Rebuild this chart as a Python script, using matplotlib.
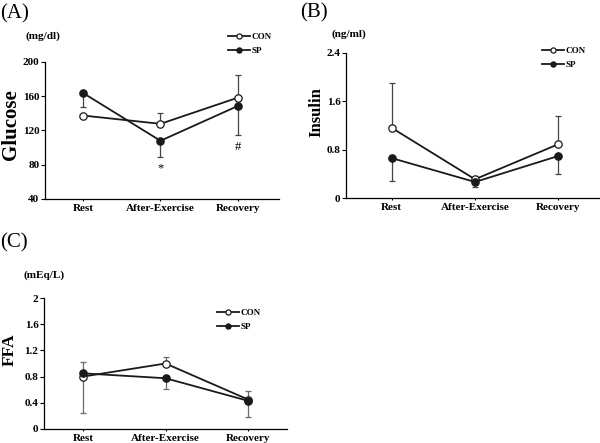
import matplotlib
matplotlib.use('Agg')
import matplotlib.pyplot as plt
import numpy as np

plt.rcParams['font.family'] = ['Liberation Serif', 'DejaVu Serif']
plt.rcParams['font.weight'] = 'bold'

categories = ['Rest', 'After-Exercise', 'Recovery']

# Glucose (mg/dl)
glu_con = [137.5, 127.8, 158.4]
glu_sp = [163.9, 108.0, 148.7]
glu_con_err_up = [0, 12.2, 26.0]
glu_sp_err_down = [17.0, 19.0, 34.0]

# Insulin (ng/ml)
ins_con = [1.16, 0.31, 0.89]
ins_sp = [0.66, 0.265, 0.695]
ins_con_err_up = [0.75, 0, 0.47]
ins_sp_err_down = [0.38, 0.075, 0.29]

# FFA (mEq/L)
ffa_con = [0.80, 1.00, 0.45]
ffa_sp = [0.85, 0.775, 0.43]
ffa_con_err_up = [0, 0.105, 0.13]
ffa_con_err_down = [0.555, 0, 0]
ffa_sp_err_up = [0.17, 0, 0]
ffa_sp_err_down = [0, 0.17, 0.25]

W, H = 600, 443


def px_axes(fig, left, right, top, bottom):
    return fig.add_axes([left / W, (H - bottom) / H, (right - left) / W, (bottom - top) / H])


def fig_text(fig, x, y, s, **kw):
    return fig.text(x / W, 1 - y / H, s, **kw)


def panel(fig, box, con, sp, errs, ylim, yticks, ylabel, unit, letter,
          xlim, ylabel_xy, ylabel_size, unit_xy, letter_xy, leg_xy, ecol):
    ax = px_axes(fig, *box)
    x = np.arange(len(categories))
    for vals, up, down in errs:
        ax.errorbar(x, vals, yerr=[down, up], fmt='none', ecolor=ecol,
                    elinewidth=0.9, capsize=2.5, capthick=0.9, zorder=1)
    ax.plot(x, con, '-o', color='#1a1a1a', mfc='white', mec='#1a1a1a',
            ms=5.3, mew=0.9, lw=1.3, label='CON', zorder=3)
    ax.plot(x, sp, '-o', color='#1a1a1a', mfc='#1a1a1a', mec='#1a1a1a',
            ms=5.3, mew=0.9, lw=1.3, label='SP', zorder=3)
    ax.set_xlim(*xlim)
    ax.set_ylim(*ylim)
    ax.set_yticks(yticks)
    ax.set_yticklabels([('%g' % t) if t != 0 else '0' for t in yticks])
    ax.set_xticks(x)
    ax.set_xticklabels(categories)
    for s in ['top', 'right']:
        ax.spines[s].set_visible(False)
    for s in ['left', 'bottom']:
        ax.spines[s].set_linewidth(0.9)
    ax.tick_params(axis='y', direction='out', length=3, width=0.8, labelsize=8, pad=1)
    ax.tick_params(axis='x', direction='out', length=1.5, width=0.8, labelsize=8, pad=2)
    fig_text(fig, ylabel_xy[0], ylabel_xy[1], ylabel, fontsize=ylabel_size,
             fontweight='bold', rotation=90, ha='center', va='center')
    fig_text(fig, unit_xy[0], unit_xy[1], unit, fontsize=8,
             fontweight='bold', ha='left', va='center')
    fig_text(fig, letter_xy[0], letter_xy[1], letter, fontsize=15,
             fontweight='normal', ha='left', va='center')
    ax.legend(loc='upper left', bbox_to_anchor=(leg_xy[0] / W, 1 - leg_xy[1] / H),
              bbox_transform=fig.transFigure, frameon=False, fontsize=6.5,
              markerscale=0.7, handlelength=2.4, handletextpad=0.2,
              labelspacing=0.6, borderpad=0, borderaxespad=0)
    return ax


fig = plt.figure(figsize=(6, 4.43), dpi=100)

axA = panel(fig, (45, 279, 62, 199), glu_con, glu_sp,
            [(glu_con, glu_con_err_up, [0, 0, 0]), (glu_sp, [0, 0, 0], glu_sp_err_down)],
            (40, 200), [40, 80, 120, 160, 200], 'Glucose', '(mg/dl)', '(A)',
            (-0.49, 2.53), (11, 125), 15, (25, 36), (0, 14), (228, 33), '#444444')
axA.text(1, 89.3 - 7, '*', ha='center', va='top', fontsize=9, fontweight='normal')
axA.text(2, 115 - 7, '#', ha='center', va='top', fontsize=9, fontweight='normal')

panel(fig, (346, 599, 53, 198), ins_con, ins_sp,
      [(ins_con, ins_con_err_up, [0, 0, 0]), (ins_sp, [0, 0, 0], ins_sp_err_down)],
      (0, 2.4), [0, 0.8, 1.6, 2.4], 'Insulin', '(ng/ml)', '(B)',
      (-0.55, 2.49), (316, 112), 12, (332, 34), (300, 13), (542, 47), '#444444')

panel(fig, (44, 287, 298, 429), ffa_con, ffa_sp,
      [(ffa_con, ffa_con_err_up, ffa_con_err_down), (ffa_sp, ffa_sp_err_up, ffa_sp_err_down)],
      (0, 2), [0, 0.4, 0.8, 1.2, 1.6, 2], 'FFA', '(mEq/L)', '(C)',
      (-0.47, 2.47), (10, 350), 12.5, (23, 275), (0, 243), (217, 309), '#6a6a6a')

fig.savefig('out.png', dpi=100)
